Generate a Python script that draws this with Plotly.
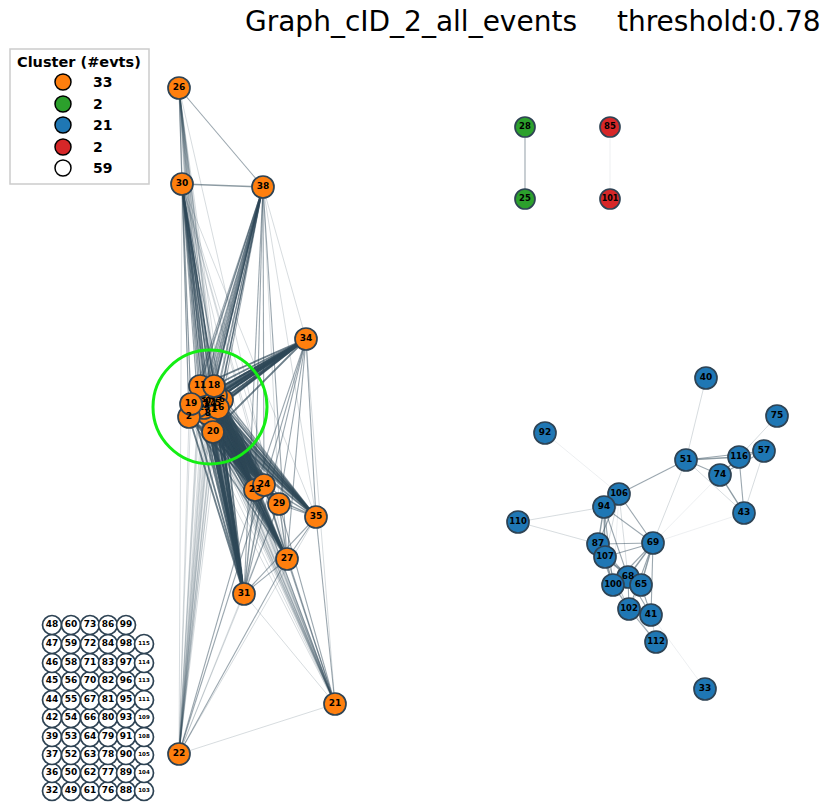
import plotly.graph_objects as go

W, H = 828, 802
PAD = 8  # the page body has an 8px margin, so the plot starts at (8, 8)

# ---- nodes (positions, y grows downwards) ----
knot_ids = [0, 1, 3, 4, 5, 6, 7, 8, 9, 10, 12, 13, 14, 15, 16, 17]
knot_x = [208, 214, 203, 212, 218, 222, 206, 208, 200, 212, 216, 204, 210, 198, 218, 206]
knot_y = [402, 410, 400, 398, 404, 400, 406, 414, 404, 392, 396, 408, 404, 406, 408, 396]

orange_ids = [2, 11, 18, 19, 20, 26, 30, 38, 34, 23, 24, 29, 35, 27, 31, 21, 22]
orange_x = [189, 200, 214, 191, 213, 179, 182, 263, 306, 255, 264, 279, 316, 287, 244, 335, 179]
orange_y = [417, 386, 386, 404, 432, 88, 184, 187, 339, 490, 485, 504, 517, 559, 594, 704, 754]

green_ids = [28, 25]
green_x = [525, 525]
green_y = [127, 199]

red_ids = [85, 101]
red_x = [610, 610]
red_y = [127, 199]

blue_ids = [40, 75, 92, 51, 116, 57, 74, 106, 94, 43, 110, 87, 69, 107, 68, 100, 65, 102, 41, 112, 33]
blue_x = [706, 777, 545, 686, 739, 764, 720, 619, 604, 744, 518, 598, 653, 605, 628, 613, 641, 629, 651, 656, 705]
blue_y = [378, 416, 433, 460, 457, 451, 475, 494, 507, 513, 522, 544, 543, 557, 577, 585, 585, 609, 615, 642, 689]

# unconnected events, one list per column (bottom to top)
white_cols = [
    [32, 36, 37, 39, 42, 44, 45, 46, 47, 48],
    [49, 50, 52, 53, 54, 55, 56, 58, 59, 60],
    [61, 62, 63, 64, 66, 67, 70, 71, 72, 73],
    [76, 77, 78, 79, 80, 81, 82, 83, 84, 86],
    [88, 89, 90, 91, 93, 95, 96, 97, 98, 99],
    [103, 104, 105, 108, 109, 111, 113, 114, 115],
]
white_col_x = [52, 71, 90, 108, 126, 144]
white_row_y = [791, 773, 755, 737, 718, 700, 681, 663, 644, 625]

# ---- edges ----
# every core node is linked to each of these nodes, with a strength level
core_ids = knot_ids + [2, 11, 18, 19, 20]
core_links = [(30, 2), (38, 2), (34, 4), (23, 4), (24, 4), (29, 3), (35, 3),
              (27, 3), (31, 4), (26, 1), (21, 1), (22, 1)]

orange_edges = [
    (26, 30, 2), (26, 38, 2), (30, 38, 3),
    (30, 31, 2), (30, 27, 1), (30, 23, 1), (30, 24, 1), (30, 29, 1), (30, 22, 1), (30, 35, 1),
    (38, 31, 2), (38, 27, 2), (38, 23, 2), (38, 24, 2), (38, 29, 1), (38, 35, 1), (38, 34, 1),
    (34, 27, 2), (34, 35, 2), (34, 31, 2), (34, 21, 1), (34, 23, 2), (34, 24, 2), (34, 29, 2),
    (23, 24, 4), (23, 29, 3), (24, 29, 3), (23, 27, 3), (24, 27, 3), (29, 27, 3),
    (23, 31, 3), (24, 31, 3), (29, 31, 2), (23, 35, 3), (24, 35, 3), (29, 35, 2),
    (35, 27, 2), (35, 31, 2), (27, 31, 2),
    (27, 21, 2), (31, 21, 1), (35, 21, 2), (23, 21, 2), (24, 21, 2), (29, 21, 2),
    (22, 21, 1), (22, 31, 1), (22, 27, 2), (22, 23, 2), (22, 24, 2), (22, 35, 1), (22, 29, 1),
    (26, 31, 1), (26, 27, 1),
]

blue_edges = [
    (40, 51, 1), (75, 116, 1), (92, 106, 0),
    (51, 116, 3), (51, 57, 2), (51, 74, 2), (51, 43, 1), (51, 106, 2), (51, 69, 1),
    (116, 57, 2), (116, 74, 3), (116, 43, 2), (57, 74, 2), (57, 43, 1), (74, 43, 3),
    (74, 69, 0), (43, 69, 0),
    (106, 94, 3), (106, 87, 2), (106, 69, 2), (106, 107, 1), (106, 68, 1), (106, 100, 0),
    (94, 110, 1), (110, 87, 1),
    (94, 87, 3), (94, 107, 3), (94, 69, 2), (94, 100, 2), (94, 68, 2),
    (87, 69, 2), (87, 107, 3), (87, 100, 2), (87, 68, 2), (87, 102, 1),
    (69, 107, 2), (69, 68, 3), (69, 65, 3), (69, 100, 2), (69, 41, 2), (69, 102, 2),
    (107, 68, 3), (107, 100, 3), (107, 65, 2), (107, 102, 1),
    (68, 100, 3), (68, 65, 3), (68, 102, 2), (68, 41, 2),
    (100, 65, 2), (100, 102, 2), (100, 112, 1),
    (65, 41, 2), (65, 102, 1), (102, 112, 2), (41, 112, 1), (41, 33, 0), (102, 41, 1),
]

pair_edges = [(28, 25, 2), (85, 101, 0)]

# ---- build lookup ----
pos = {}
for ids, xs, ys in [(knot_ids, knot_x, knot_y), (orange_ids, orange_x, orange_y),
                    (green_ids, green_x, green_y), (red_ids, red_x, red_y),
                    (blue_ids, blue_x, blue_y)]:
    for n, x, y in zip(ids, xs, ys):
        pos[n] = (x, y)

white_ids, white_x, white_y = [], [], []
for col, cx in zip(white_cols, white_col_x):
    for i, n in enumerate(col):
        white_ids.append(n)
        white_x.append(cx)
        white_y.append(white_row_y[i])

edges = [(c, t, w) for t, w in core_links for c in core_ids]
edges += orange_edges + blue_edges + pair_edges

edge_style = {
    0: dict(width=0.6, color="rgba(47,72,88,0.15)"),
    1: dict(width=0.7, color="rgba(47,72,88,0.28)"),
    2: dict(width=1.1, color="rgba(47,72,88,0.48)"),
    3: dict(width=1.4, color="rgba(47,72,88,0.55)"),
    4: dict(width=1.8, color="rgba(47,72,88,0.7)"),
}

fig = go.Figure()

# one trace per edge so overlapping lines darken like in the original
for a, b, w in edges:
    (x0, y0), (x1, y1) = pos[a], pos[b]
    fig.add_trace(go.Scatter(
        x=[x0, x1], y=[y0, y1], mode="lines",
        line=edge_style[w], hoverinfo="skip", showlegend=False,
    ))

EDGE = "#2e4354"


def add_nodes(ids, xs, ys, color, size, fsizes):
    fig.add_trace(go.Scatter(
        x=xs, y=ys, mode="markers+text",
        text=[str(n) for n in ids],
        textposition="middle center",
        textfont=dict(family="DejaVu Sans", size=fsizes, color="black", weight="bold"),
        marker=dict(size=size, color=color, line=dict(color=EDGE, width=1.7)),
        hoverinfo="text", showlegend=False,
    ))


add_nodes(knot_ids, knot_x, knot_y, "#ff7f0e", 22, 9)
add_nodes(orange_ids, orange_x, orange_y, "#ff7f0e", 22, 9)
add_nodes(green_ids, green_x, green_y, "#2ca02c", 20, 8.5)
add_nodes(red_ids, red_x, red_y, "#d62728", 20, [8.5, 8])
add_nodes(blue_ids, blue_x, blue_y, "#1f77b4", 22, [9 if n < 100 else 8.5 for n in blue_ids])
add_nodes(white_ids, white_x, white_y, "white", 19, [9 if n < 100 else 5.5 for n in white_ids])

# highlight ring around the dense core
shapes = [dict(type="circle", xref="x", yref="y", x0=153, x1=267, y0=350, y1=464,
               line=dict(color="#14ee14", width=3), layer="above")]

# legend box drawn by hand
legend_colors = ["#ff7f0e", "#2ca02c", "#1f77b4", "#d62728", "white"]
legend_counts = [len(knot_ids) + len(orange_ids), len(green_ids), len(blue_ids),
                 len(red_ids), len(white_ids)]
shapes.append(dict(type="rect", xref="x", yref="y", x0=10, x1=149, y0=49, y1=184,
                   line=dict(color="#cccccc", width=1.5), fillcolor="white", layer="above"))
annotations = [dict(x=79, y=62, xref="x", yref="y", text="<b>Cluster (#evts)</b>",
                    showarrow=False, font=dict(family="DejaVu Sans", size=14.5, color="black"))]
row_y = [82, 104, 125, 147, 168]
for c, n, ry in zip(legend_colors, legend_counts, row_y):
    shapes.append(dict(type="circle", xref="x", yref="y", x0=55, x1=71, y0=ry - 8, y1=ry + 8,
                       fillcolor=c, line=dict(color="black", width=1.5), layer="above"))
    annotations.append(dict(x=91, y=ry, xref="x", yref="y", text="<b>%d</b>" % n,
                            xanchor="left", showarrow=False,
                            font=dict(family="DejaVu Sans", size=14, color="black")))

# title
annotations.append(dict(x=579, y=21, xref="x", yref="y", text="Graph_cID_2_all_events",
                        xanchor="right", showarrow=False,
                        font=dict(family="DejaVu Sans", size=28, color="black")))
annotations.append(dict(x=823, y=21, xref="x", yref="y", text="threshold:0.78",
                        xanchor="right", showarrow=False,
                        font=dict(family="DejaVu Sans", size=28, color="black")))

fig.update_layout(
    width=W - PAD, height=H - PAD, autosize=False,
    margin=dict(l=0, r=0, t=0, b=0),
    paper_bgcolor="white", plot_bgcolor="white",
    xaxis=dict(range=[PAD, W], visible=False, fixedrange=True),
    yaxis=dict(range=[H, PAD], visible=False, fixedrange=True),
    shapes=shapes, annotations=annotations,
    showlegend=False,
)

fig.write_html("out.html")
